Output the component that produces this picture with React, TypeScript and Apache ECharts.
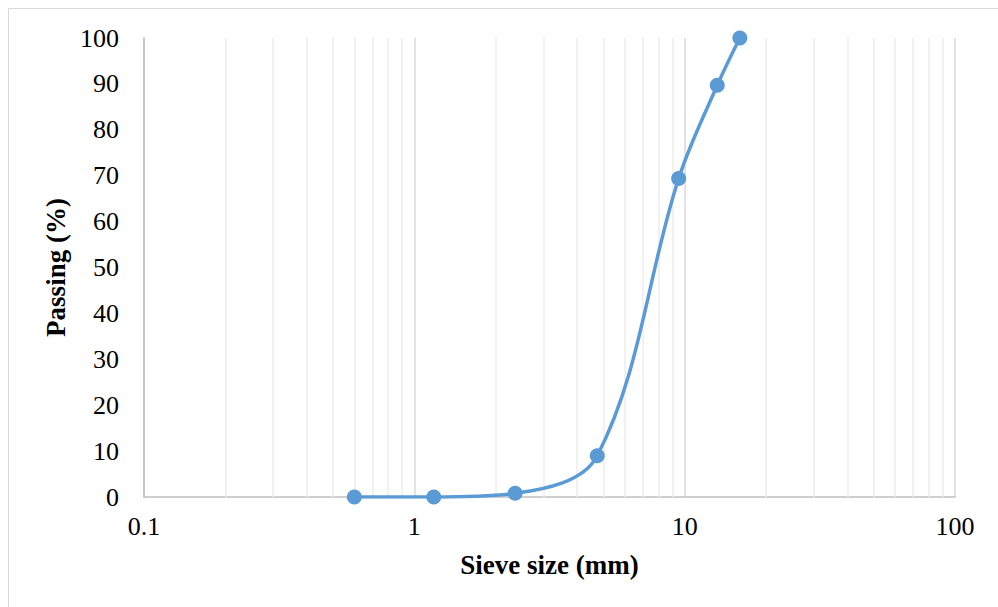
import React, { useEffect, useRef } from "react";
import * as echarts from "echarts";

const sieveSizes = [0.6, 1.18, 2.36, 4.75, 9.5, 13.2, 16];
const passing = [0, 0, 0.8, 9, 69.4, 89.7, 100];
const minorGridValues = [
  0.2, 0.3, 0.4, 0.5, 0.6, 0.7, 0.8, 0.9,
  2, 3, 4, 5, 6, 7, 8, 9,
  20, 30, 40, 50, 60, 70, 80, 90,
];
const xAxisTitle = "Sieve size (mm)";
const yAxisTitle = "Passing (%)";

const FONT = "'Liberation Serif', 'Times New Roman', serif";

export default function App() {
  const ref = useRef<HTMLDivElement>(null);

  useEffect(() => {
    if (!ref.current) return;
    const chart = echarts.init(ref.current, undefined, { renderer: "svg" });
    chart.setOption({
      animation: false,
      backgroundColor: "#ffffff",
      textStyle: { fontFamily: FONT },
      graphic: [
        {
          type: "rect",
          shape: { x: 8.5, y: 8.5, width: 1200, height: 1200 },
          style: { fill: "none", stroke: "#d9d9d9", lineWidth: 1 },
          silent: true,
          z: -10,
        },
      ],
      grid: { left: 144, right: 43, top: 38, bottom: 110 },
      xAxis: {
        type: "log",
        logBase: 10,
        min: 0.1,
        max: 100,
        name: xAxisTitle,
        nameLocation: "middle",
        nameGap: 54,
        nameTextStyle: {
          fontFamily: FONT,
          fontSize: 27,
          fontWeight: "bold",
          color: "#000",
        },
        axisLine: { show: true, lineStyle: { color: "#bfbfbf", width: 1.5 } },
        axisTick: { show: false },
        axisLabel: {
          fontFamily: FONT,
          fontSize: 26,
          color: "#000",
          margin: 16,
          formatter: (v: number) => String(Number(v.toPrecision(6))),
        },
        splitLine: { show: true, lineStyle: { color: "#d9d9d9", width: 1.5 } },
        minorTick: { show: false },
        minorSplitLine: { show: false },
      },
      yAxis: {
        type: "value",
        min: 0,
        max: 100,
        interval: 10,
        name: yAxisTitle,
        nameLocation: "middle",
        nameGap: 68,
        nameTextStyle: {
          fontFamily: FONT,
          fontSize: 27,
          fontWeight: "bold",
          color: "#000",
        },
        axisLine: { show: true, lineStyle: { color: "#bfbfbf", width: 1.5 } },
        axisTick: { show: false },
        axisLabel: {
          fontFamily: FONT,
          fontSize: 26,
          color: "#000",
          margin: 25,
        },
        splitLine: { show: false },
      },
      series: [
        {
          type: "line",
          data: [],
          z: 1,
          silent: true,
          markLine: {
            silent: true,
            symbol: "none",
            label: { show: false },
            lineStyle: { color: "#ededed", width: 1.5, type: "solid" },
            data: minorGridValues.map((v) => ({ xAxis: v })),
          },
        },
        {
          type: "line",
          z: 5,
          data: sieveSizes.map((s, i) => [s, passing[i]]),
          smooth: 0.35,
          symbol: "circle",
          symbolSize: 15,
          showSymbol: true,
          lineStyle: { color: "#5b9bd5", width: 3.5 },
          itemStyle: { color: "#5b9bd5" },
        },
      ],
    });
    return () => chart.dispose();
  }, []);

  return (
    <div
      ref={ref}
      style={{ position: "fixed", left: 0, top: 0, width: 998, height: 607 }}
    />
  );
}
